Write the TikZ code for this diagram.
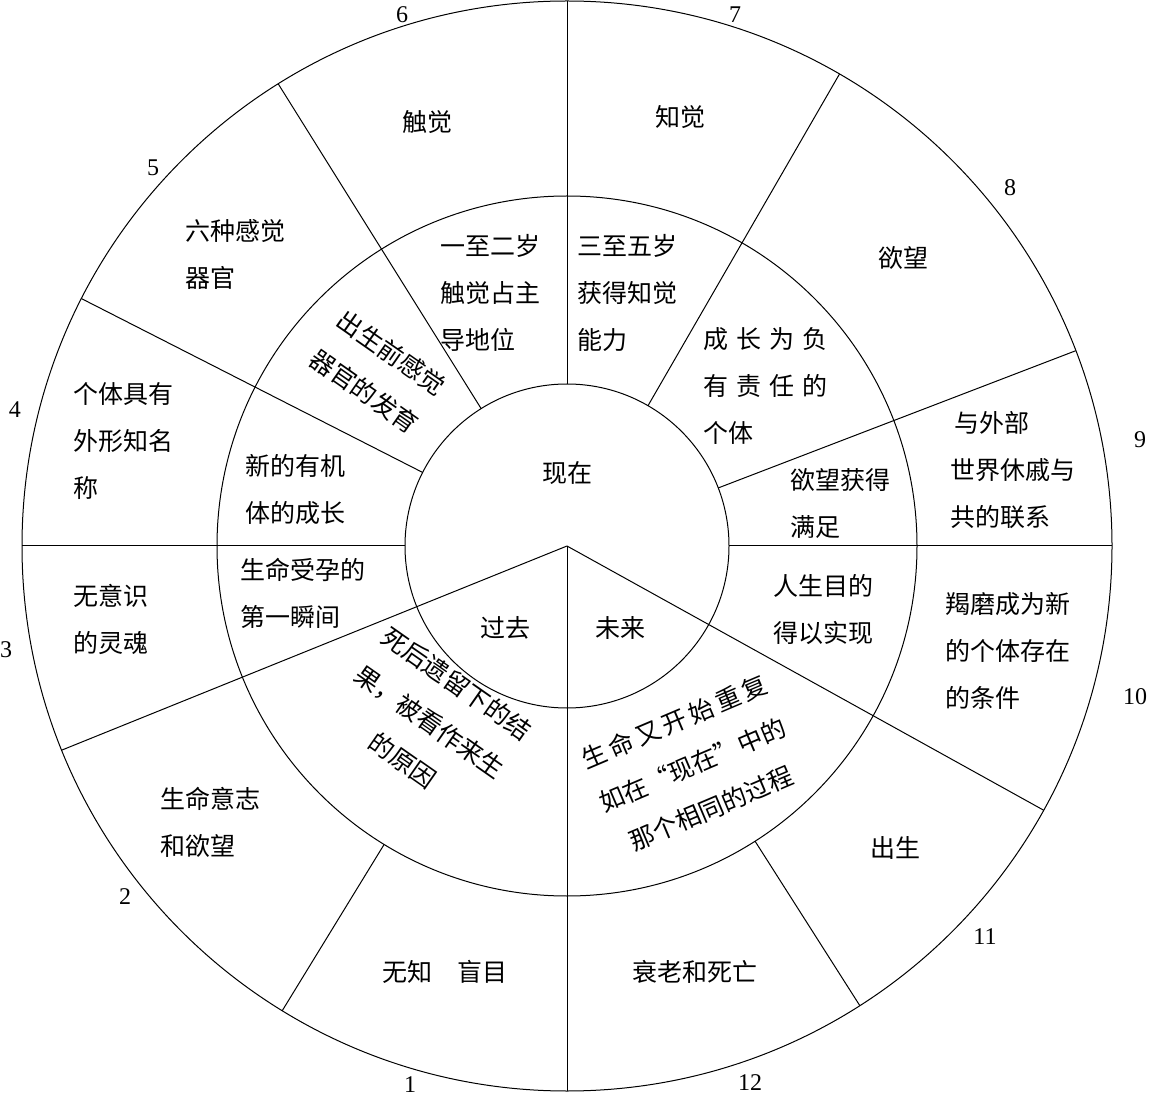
\documentclass[tikz,border=0pt]{standalone}
\usepackage{fontspec}
\setmainfont{Liberation Serif}
\newfontfamily\cjk{Noto Sans CJK SC}
\begin{document}
\begin{tikzpicture}[x=0.5pt,y=-0.5pt,
  t/.style={font=\cjk\fontsize{12.5}{23.5}\selectfont,align=left,inner sep=0pt},
  tl/.style={t,anchor=west},
  num/.style={font=\fontsize{12}{14}\selectfont,inner sep=0pt},
  ln/.style={line width=0.5pt}]
\useasboundingbox (0,0) rectangle (1152,1096);
\coordinate (c) at (567,546);
\draw[ln] (c) circle[radius=272.5pt];
\draw[ln] (c) circle[radius=175pt];
\draw[ln] (c) circle[radius=81pt];
\foreach \a in {90,60,21,0,180,153,122}
  \draw[ln] ([shift={(\a:81pt)}]c) -- ([shift={(\a:272.5pt)}]c);
\foreach \a in {-57.5,-121.5}
  \draw[ln] ([shift={(\a:175pt)}]c) -- ([shift={(\a:272.5pt)}]c);
\foreach \a in {-29,-90,202}
  \draw[ln] (c) -- ([shift={(\a:272.5pt)}]c);
% numbers
\node[num] (n6) at (402,15) {6};
\node[num] (n7) at (735,15) {7};
\node[num] (n8) at (1010,188) {8};
\node[num] (n9) at (1140,440) {9};
\node[num] (n10) at (1135,697) {10};
\node[num] (n11) at (985,937) {11};
\node[num] (n12) at (750,1083) {12};
\node[num] (n1) at (410,1085) {1};
\node[num] (n2) at (125,897) {2};
\node[num] (n3) at (6,650) {3};
\node[num] (n4) at (15,410) {4};
\node[num] (n5) at (153,168) {5};
% outer ring
\node[t] (a1) at (427,122) {触觉};
\node[t] (a2) at (680,117) {知觉};
\node[tl] (a3) at (185,254) {六种感觉\\器官};
\node[t] (a4) at (903,258) {欲望};
\node[tl] (a5) at (950,470) {\,与外部\\世界休戚与\\共的联系};
\node[tl] (a6) at (73,441) {个体具有\\外形知名\\称};
\node[tl] (a7) at (73,619) {无意识\\的灵魂};
\node[tl] (a8) at (945,651) {羯磨成为新\\的个体存在\\的条件};
\node[tl] (a9) at (160,822) {生命意志\\和欲望};
\node[t] (a10) at (895,848) {出生};
\node[t] (a11) at (445,972) {无知\quad 盲目};
\node[t] (a12) at (695,972) {衰老和死亡};
% middle ring
\node[tl] (b1) at (440,293) {一至二岁\\触觉占主\\导地位};
\node[tl] (b2) at (577,293) {三至五岁\\获得知觉\\能力};
\node[t,align=center,rotate=-35] (b3) at (378,372) {出生前感觉\\器官的发育};
\node[tl] (b4) at (703,386) {成\hspace{4pt}长\hspace{4pt}为\hspace{4pt}负\\有\hspace{4pt}责\hspace{4pt}任\hspace{4pt}的\\个体};
\node[tl] (b5) at (245,490) {新的有机\\体的成长};
\node[tl] (b6) at (790,503) {欲望获得\\满足};
\node[tl] (b7) at (240,593) {生命受孕的\\第一瞬间};
\node[tl] (b8) at (773,610) {人生目的\\得以实现};
\node[t,align=center,rotate=-35] (b9) at (430,722) {死后遗留下的结\\果，被看作来生\\的原因};
\node[t,align=center,rotate=23] (b10) at (693,765) {生\hspace{2pt}命\hspace{2pt}又\hspace{2pt}开\hspace{2pt}始\hspace{2pt}重\hspace{2pt}复\\如在“现在”中的\\那个相同的过程};
% inner
\node[t] (c1) at (567,473) {现在};
\node[t] (c2) at (505,628) {过去};
\node[t] (c3) at (620,628) {未来};
\end{tikzpicture}
\end{document}
